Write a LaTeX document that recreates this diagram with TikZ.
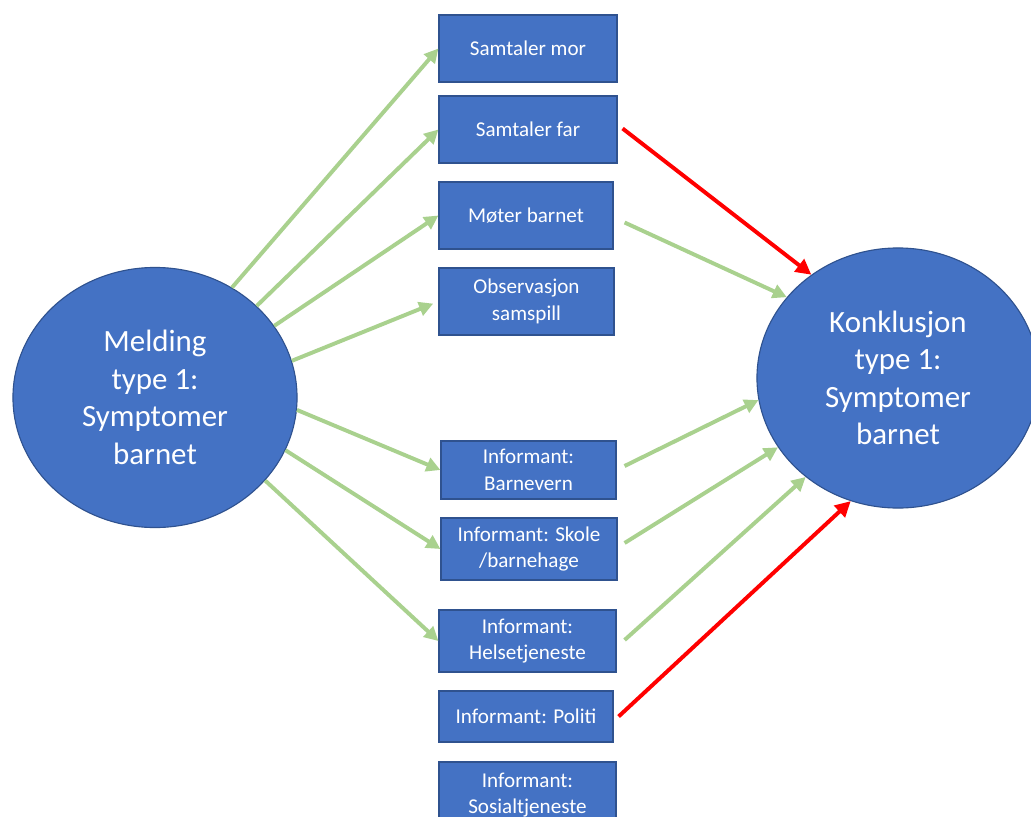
\documentclass[tikz,border=0pt]{standalone}
\usepackage{fontspec}
\setmainfont{Carlito}
\usetikzlibrary{shapes.geometric,arrows.meta}
\definecolor{boksblaa}{HTML}{4472C4}
\definecolor{kant}{HTML}{2F528F}
\definecolor{lysgronn}{HTML}{A9D18E}
\definecolor{rod}{HTML}{FF0000}
\tikzset{
	boks/.style = {draw=kant, fill=boksblaa, text=white, align=center, inner sep=0pt, line width=0.8pt, font=\fontsize{15}{19}\selectfont},
	sirkel/.style = {ellipse, draw=kant, fill=boksblaa, text=white, align=center, inner sep=0pt, line width=0.8pt, font=\fontsize{22}{26.7}\selectfont},
	gpil/.style = {draw=lysgronn, line width=2.8pt, -{Triangle[length=10pt,width=10pt]}},
	rpil/.style = {draw=rod, line width=2.8pt, -{Triangle[length=11pt,width=11pt]}}
}
\begin{document}
\begin{tikzpicture}[x=0.025cm, y=-0.025cm]
					\useasboundingbox (0,0) rectangle (1031,816);

					\node [sirkel, minimum width=7.1cm, minimum height=6.5cm] (mel) at (155,397.5) {Melding\\type 1:\\Symptomer\\barnet};
					\node [sirkel, minimum width=7.05cm, minimum height=6.5cm] (kon) at (898,378) {Konklusjon\\type 1:\\Symptomer\\barnet};

					\node [boks, minimum width=4.45cm, minimum height=1.675cm] (b1) at (528,48.5) {Samtaler mor};
					\node [boks, minimum width=4.45cm, minimum height=1.675cm] (b2) at (528,129.5) {Samtaler far};
					\node [boks, minimum width=4.35cm, minimum height=1.675cm] (b3) at (526,215.5) {Møter barnet};
					\node [boks, minimum width=4.375cm, minimum height=1.675cm] (b4) at (526.5,301.5) {Observasjon\\samspill};
					\node [boks, minimum width=4.375cm, minimum height=1.45cm] (b5) at (528.5,470) {Informant:\\Barnevern};
					\node [boks, minimum width=4.4cm, minimum height=1.55cm] (b6) at (529,549) {Informant: Skole\\/barnehage};
					\node [boks, minimum width=4.425cm, minimum height=1.55cm] (b7) at (527.5,641) {Informant:\\Helsetjeneste};
					\node [boks, minimum width=4.35cm, minimum height=1.275cm] (b8) at (526,716.5) {Informant: Politi};
					\node [boks, minimum width=4.425cm, minimum height=1.65cm] (b9) at (527.5,795) {Informant:\\Sosialtjeneste};

					\draw [gpil] (mel.55) -- (b1.west);
					\draw [gpil] (mel.42) -- (b2.west);
					\draw [gpil] (mel.31) -- (b3.west);
					\draw [gpil, shorten >=4pt] (mel.15) -- (b4.west);
					\draw [gpil] (mel.-5) -- (b5.west);
					\draw [gpil] (mel.-22) -- (b6.west);
					\draw [gpil] (mel.-37) -- (b7.west);

					\draw [rpil] ([shift={(5,-1)}]b2.east) -- (kon.130);
					\draw [gpil] ([shift={(11,7)}]b3.east) -- (kon.144);
					\draw [gpil] ([shift={(8,-4)}]b5.east) -- (kon.189);
					\draw [gpil] ([shift={(7,-6)}]b6.east) -- (kon.210);
					\draw [gpil] ([shift={(8,-1)}]b7.east) -- (kon.227);
					\draw [rpil] ([shift={(5,0)}]b8.east) -- (kon.249);
				\end{tikzpicture}
\end{document}
